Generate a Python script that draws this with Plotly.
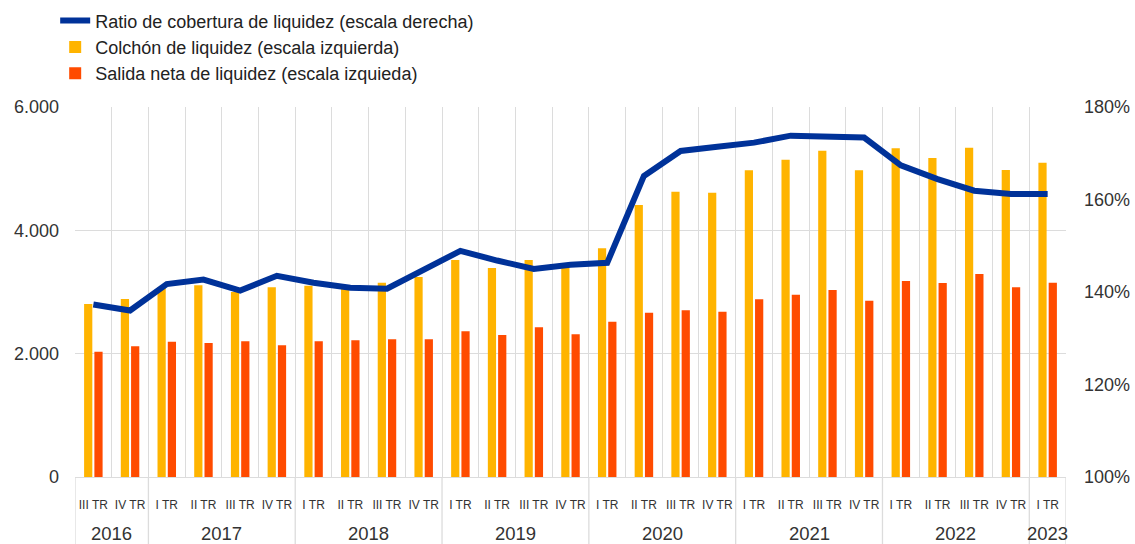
import plotly.graph_objects as go

quarters = ["III TR", "IV TR",
            "I TR", "II TR", "III TR", "IV TR",
            "I TR", "II TR", "III TR", "IV TR",
            "I TR", "II TR", "III TR", "IV TR",
            "I TR", "II TR", "III TR", "IV TR",
            "I TR", "II TR", "III TR", "IV TR",
            "I TR", "II TR", "III TR", "IV TR",
            "I TR"]
years = ["2016", "2017", "2018", "2019", "2020", "2021", "2022", "2023"]
year_counts = [2, 4, 4, 4, 4, 4, 4, 1]

colchon = [2805, 2886, 3080, 3108, 3000, 3076, 3103, 3100, 3151, 3243,
           3519, 3389, 3519, 3390, 3710, 4411, 4627, 4611, 4973, 5146,
           5292, 4973, 5330, 5173, 5341, 4978, 5097]
salida = [2032, 2119, 2195, 2173, 2200, 2135, 2200, 2216, 2232, 2232,
          2362, 2303, 2427, 2314, 2519, 2665, 2703, 2681, 2881, 2957,
          3032, 2859, 3178, 3146, 3292, 3076, 3151]
ratio = [137.3, 136.0, 141.7, 142.7, 140.3, 143.5, 142.0, 140.9, 140.7, 144.8,
         148.9, 146.8, 145.0, 145.9, 146.3, 165.1, 170.5, 171.4, 172.3, 173.8,
         173.7, 173.4, 167.4, 164.4, 161.9, 161.2, 161.2]

x = list(range(len(quarters)))
FONT = "Arial, Liberation Sans, sans-serif"
TXT = "#333333"
GRID = "#dcdcdc"

fig = go.Figure()
fig.add_trace(go.Bar(x=x, y=colchon, name="Colchón de liquidez (escala izquierda)",
                     marker=dict(color="#FFB400", line=dict(width=0)), legendrank=2))
fig.add_trace(go.Bar(x=x, y=salida, name="Salida neta de liquidez (escala izquieda)",
                     marker=dict(color="#FF4B00", line=dict(width=0)), legendrank=3))
fig.add_trace(go.Scatter(x=x, y=ratio, yaxis="y2", mode="lines",
                         name="Ratio de cobertura de liquidez (escala derecha)",
                         line=dict(color="#003299", width=6), legendrank=1))

shapes = []
annotations = []
start = 0
bounds = [-0.5]
for yr, n in zip(years, year_counts):
    center = start + (n - 1) / 2
    annotations.append(dict(x=center, y=-0.153, xref="x", yref="paper", text=yr,
                            showarrow=False, font=dict(size=18.5, color=TXT, family=FONT),
                            xanchor="center", yanchor="middle"))
    start += n
    bounds.append(start - 0.5)
for b in bounds:
    shapes.append(dict(type="line", xref="x", yref="paper", x0=b, x1=b, y0=0, y1=-0.19,
                       line=dict(color=GRID, width=1.3)))

fig.update_layout(
    width=1135, height=544,
    margin=dict(l=75, r=69, t=107, b=67, autoexpand=False),
    paper_bgcolor="white", plot_bgcolor="white",
    separators=",.",
    barmode="group", bargap=0.44, bargroupgap=0.2,
    font=dict(family=FONT, color=TXT),
    showlegend=True,
    legend=dict(x=-0.02, y=1.283, xanchor="left", yanchor="top",
                font=dict(size=18, color="#222222", family=FONT),
                bgcolor="rgba(0,0,0,0)", itemwidth=30),
    xaxis=dict(range=[-0.5, len(quarters) - 0.5], tickmode="array", tickvals=x,
               ticktext=quarters, showgrid=False, zeroline=False,
               tickfont=dict(size=12, color=TXT, family=FONT), ticks="",
               ticklabelstandoff=16,
               showline=True, linecolor=GRID, linewidth=1.3,
               minor=dict(tickmode="array", tickvals=[i - 0.5 for i in range(len(quarters) + 1)],
                          showgrid=True, gridcolor=GRID, gridwidth=1, ticks="")),
    yaxis=dict(range=[0, 6000], dtick=2000, tick0=0, separatethousands=True,
               tickformat=",d", showgrid=True, gridcolor=GRID, gridwidth=1.3,
               zeroline=False, tickfont=dict(size=18, color=TXT, family=FONT),
               ticklabelstandoff=15),
    yaxis2=dict(range=[100, 180], dtick=20, tick0=100, ticksuffix="%",
                overlaying="y", side="right", showgrid=False, zeroline=False,
                tickfont=dict(size=18, color=TXT, family=FONT), ticklabelstandoff=17),
    shapes=shapes, annotations=annotations,
)

fig.write_html("out.html", config={"displayModeBar": False},
               post_script="document.body.style.margin='0px';")
